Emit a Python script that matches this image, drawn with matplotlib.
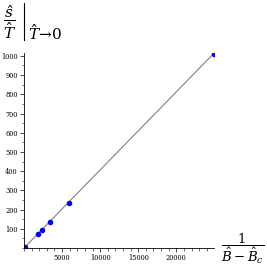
"""Entropy over temperature at T -> 0 versus 1/(B - Bc), Maple-style plot."""

import matplotlib.pyplot as plt
from matplotlib.lines import Line2D
from matplotlib.ticker import MultipleLocator

plt.rcParams["font.family"] = ["DejaVu Serif"]
plt.rcParams["mathtext.fontset"] = "dejavuserif"

# data
inv_dB = [100, 1840, 2400, 3420, 5960, 24900]
s_over_T = [5, 73, 95, 135, 236, 1012]

fig = plt.figure(figsize=(2.67, 2.67), dpi=100)
ax = fig.add_axes([24 / 267, 19 / 267, 190 / 267, 195 / 267])

ax.plot([0, inv_dB[-1]], [0, s_over_T[-1]], color="#808080", linewidth=0.8, zorder=1)
ax.scatter(inv_dB, s_over_T, s=16, color="#0000ff", marker="o", zorder=2, linewidths=0)

ax.set_xlim(0, 24950)
ax.set_ylim(0, 1015)
ax.xaxis.set_minor_locator(MultipleLocator(1000))
ax.yaxis.set_minor_locator(MultipleLocator(50))
ax.set_xticks([5000, 10000, 15000, 20000])
ax.set_yticks(range(100, 1001, 100))

for side in ("top", "right"):
    ax.spines[side].set_visible(False)
for side in ("left", "bottom"):
    ax.spines[side].set_linewidth(0.6)
ax.tick_params(which="major", length=3, width=0.5, labelsize=4.8, pad=1.5)
ax.tick_params(which="minor", length=1.8, width=0.4)

# y label: s/T evaluated at T -> 0
fig.text(3 / 267, 1 - 22 / 267, r"$\dfrac{\hat{s}}{\hat{T}}$", fontsize=11,
         va="center", ha="left")
fig.add_artist(Line2D([24 / 267, 24 / 267], [1 - 3 / 267, 1 - 40 / 267],
                      color="black", linewidth=0.8, transform=fig.transFigure))
fig.text(28 / 267, 1 - 43 / 267, r"$\hat{T}\!\rightarrow\!0$", fontsize=11,
         va="bottom", ha="left")

# x label
fig.text(243 / 267, 1 - 249 / 267, r"$\dfrac{1}{\hat{B}-\hat{B}_c}$", fontsize=9.5,
         va="center", ha="center")

fig.savefig("out.png", dpi=100)
